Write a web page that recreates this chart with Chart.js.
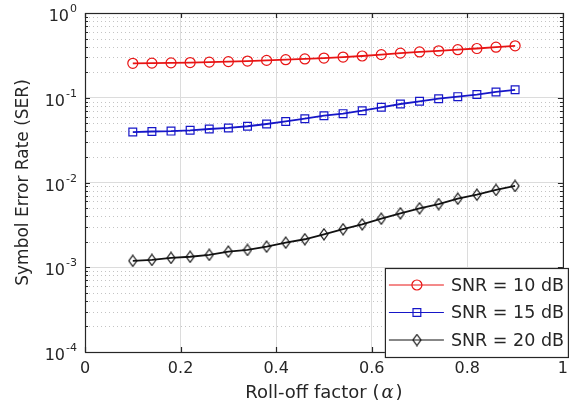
<!DOCTYPE html>
<html>
<head>
<meta charset="utf-8">
<script src="https://cdn.jsdelivr.net/npm/chart.js@4/dist/chart.umd.min.js"></script>
<style>
html,body{margin:0;padding:0;background:#fff}
#wrap{width:575px;height:406px}
</style>
</head>
<body>
<div id="wrap"><canvas id="serChart" width="575" height="406"></canvas></div>
<script>
// roll-off factor on the x axis
const alphaValues = [0.10,0.14,0.18,0.22,0.26,0.30,0.34,0.38,0.42,0.46,0.50,0.54,0.58,0.62,0.66,0.70,0.74,0.78,0.82,0.86,0.90];
// SER for each SNR
const serSnr10 = [0.255,0.256,0.258,0.260,0.263,0.267,0.271,0.276,0.281,0.287,0.294,0.302,0.311,0.323,0.336,0.347,0.358,0.369,0.381,0.395,0.410];
const serSnr15 = [0.0394,0.0400,0.0404,0.0413,0.0428,0.0440,0.0461,0.0490,0.0525,0.0566,0.0614,0.0649,0.0703,0.0771,0.0844,0.0908,0.0975,0.103,0.109,0.117,0.124];
const serSnr20 = [0.00119,0.00122,0.00129,0.00133,0.00140,0.00153,0.00160,0.00175,0.00195,0.00214,0.00245,0.00281,0.00321,0.00374,0.00433,0.00496,0.00557,0.00644,0.00718,0.00817,0.00910];
const seriesLabels = ['SNR = 10 dB','SNR = 15 dB','SNR = 20 dB'];
const xTicks = [0,0.2,0.4,0.6,0.8,1];
const yDecades = [1e-4,1e-3,1e-2,1e-1,1];

const FONT = '"DejaVu Sans", sans-serif';
const AXIS_COLOR = '#262626';

function toPoints(ys){
  return alphaValues.map((a,i)=>({x:a,y:ys[i]}));
}

// matlab diamonds are a bit taller than wide
function diamondImg(color, w, h){
  let c = document.createElement('canvas');
  c.width = w+2; c.height = h+2;
  let g = c.getContext('2d');
  g.strokeStyle = color; g.lineWidth = 1.2;
  let cx = c.width/2, cy = c.height/2;
  g.beginPath();
  g.moveTo(cx,cy-h/2); g.lineTo(cx+w/2,cy); g.lineTo(cx,cy+h/2); g.lineTo(cx-w/2,cy); g.closePath();
  g.stroke();
  return c;
}

let mkDataset = (label, ys, color, style, r) => ({
  label: label,
  data: toPoints(ys),
  borderColor: color,
  backgroundColor: 'rgba(0,0,0,0)',
  borderWidth: 1.8,
  pointStyle: style,
  pointRadius: r,
  pointBorderWidth: 1.2,
  pointBorderColor: color,
  pointBackgroundColor: 'rgba(0,0,0,0)',
  tension: 0
});

function drawMarker(ctx, style, x, y, r){
  if(style instanceof HTMLCanvasElement){
    ctx.drawImage(style, x-style.width/2, y-style.height/2);
    return;
  }
  ctx.beginPath();
  if(style==='circle'){
    ctx.arc(x,y,r,0,Math.PI*2);
  } else {
    let s = r*Math.SQRT1_2;
    ctx.rect(x-s,y-s,2*s,2*s);
  }
  ctx.stroke();
}

const matlabAxes = {
  id: 'matlabAxes',
  beforeDatasetsDraw(chart){
    const {ctx, chartArea:a, scales:{y}} = chart;
    ctx.save();
    ctx.strokeStyle = '#c4c4c4';
    ctx.lineWidth = 1;
    ctx.setLineDash([1,3]);
    for(let d=0; d<yDecades.length-1; d++){
      for(let m=2; m<=9; m++){
        let py = Math.round(y.getPixelForValue(m*yDecades[d]))+0.5;
        ctx.beginPath(); ctx.moveTo(a.left,py); ctx.lineTo(a.right,py); ctx.stroke();
      }
    }
    ctx.restore();
  },
  afterDraw(chart){
    const {ctx, chartArea:a, scales:{x,y}} = chart;
    ctx.save();
    // box
    ctx.strokeStyle = AXIS_COLOR;
    ctx.lineWidth = 1.2;
    ctx.strokeRect(a.left+0.5, a.top+0.5, a.right-a.left, a.bottom-a.top);
    // inward ticks
    ctx.beginPath();
    xTicks.forEach(v=>{
      let px = Math.round(x.getPixelForValue(v))+0.5;
      ctx.moveTo(px,a.bottom); ctx.lineTo(px,a.bottom-5);
      ctx.moveTo(px,a.top); ctx.lineTo(px,a.top+5);
    });
    yDecades.forEach((d,i)=>{
      let py = Math.round(y.getPixelForValue(d))+0.5;
      ctx.moveTo(a.left,py); ctx.lineTo(a.left+5,py);
      ctx.moveTo(a.right,py); ctx.lineTo(a.right-5,py);
      if(i<yDecades.length-1){
        for(let m=2;m<=9;m++){
          let pm = Math.round(y.getPixelForValue(m*d))+0.5;
          ctx.moveTo(a.left,pm); ctx.lineTo(a.left+3,pm);
          ctx.moveTo(a.right,pm); ctx.lineTo(a.right-3,pm);
        }
      }
    });
    ctx.stroke();

    // y tick labels 10^n
    ctx.fillStyle = AXIS_COLOR;
    ctx.textBaseline = 'alphabetic';
    ctx.textAlign = 'left';
    yDecades.forEach(d=>{
      let py = y.getPixelForValue(d);
      let e = String(Math.round(Math.log10(d)));
      ctx.font = '11px '+FONT;
      let ew = ctx.measureText(e).width;
      ctx.font = '16px '+FONT;
      let bw = ctx.measureText('10').width;
      let right = a.left - 8;
      ctx.fillText('10', right-ew-bw-1, py+8);
      ctx.font = '11px '+FONT;
      ctx.fillText(e, right-ew, py-1);
    });

    // x title with italic alpha
    let t1 = 'Roll-off factor (', t2 = '\u03b1', t3 = ')';
    let fs = '18px '+FONT, fa = 'italic 18px "DejaVu Serif", serif';
    ctx.font = fs;
    let w1 = ctx.measureText(t1).width, w3 = ctx.measureText(t3).width;
    ctx.font = fa;
    let w2 = ctx.measureText(t2).width;
    let gap = 2;
    let cx = (a.left+a.right)/2, tx = cx-(w1+w2+w3+2*gap)/2, ty = 398;
    ctx.font = fs;
    ctx.fillText(t1, tx, ty);
    ctx.font = fa;
    ctx.fillText(t2, tx+w1+gap, ty);
    ctx.font = fs;
    ctx.fillText(t3, tx+w1+w2+2*gap, ty);

    // legend
    let bx = a.right-178, by = a.bottom-84, bwid = 183, bh = 89;
    ctx.fillStyle = '#fff';
    ctx.fillRect(bx,by,bwid,bh);
    ctx.lineWidth = 1.2;
    ctx.strokeStyle = AXIS_COLOR;
    ctx.strokeRect(bx+0.5,by+0.5,bwid,bh);
    chart.data.datasets.forEach((ds,i)=>{
      let ry = by+17+i*27.5;
      ctx.strokeStyle = ds.borderColor;
      ctx.lineWidth = 1;
      ctx.beginPath(); ctx.moveTo(bx+4,ry); ctx.lineTo(bx+59,ry); ctx.stroke();
      ctx.lineWidth = 1.2;
      drawMarker(ctx, ds.pointStyle, bx+32, ry, ds.pointRadius);
      ctx.fillStyle = AXIS_COLOR;
      ctx.font = '17.5px '+FONT;
      ctx.textBaseline = 'middle';
      ctx.fillText(ds.label, bx+66, ry+1);
    });
    ctx.restore();
  }
};

new Chart(document.getElementById('serChart'), {
  type: 'line',
  data: {
    datasets: [
      mkDataset(seriesLabels[0], serSnr10, '#e81414', 'circle', 5),
      mkDataset(seriesLabels[1], serSnr15, '#1616c8', 'rect', 5.5),
      mkDataset(seriesLabels[2], serSnr20, '#111111', diamondImg('#111111', 8, 11), 5.5)
    ]
  },
  options: {
    responsive: false,
    animation: false,
    devicePixelRatio: 1,
    layout: {padding: {left: 0, top: 13, right: 8, bottom: 0}},
    plugins: {legend: {display: false}, tooltip: {enabled: false}},
    scales: {
      x: {
        type: 'linear', min: 0, max: 1,
        afterBuildTicks: s => { s.ticks = xTicks.map(v=>({value:v})); },
        afterFit: s => { s.height = 54; },
        ticks: {
          autoSkip: false, maxRotation: 0, padding: 7,
          color: AXIS_COLOR, font: {family: FONT, size: 16},
          callback: v => String(+Number(v).toFixed(1))
        },
        grid: {
          drawTicks: false,
          color: c => (c.tick && (c.tick.value===0 || c.tick.value===1)) ? 'rgba(0,0,0,0)' : '#dcdcdc'
        },
        border: {display: false}
      },
      y: {
        type: 'logarithmic', min: 1e-4, max: 1,
        afterBuildTicks: s => { s.ticks = yDecades.map(v=>({value:v})); },
        afterFit: s => { s.width = 85; },
        ticks: {display: false},
        grid: {
          drawTicks: false,
          color: c => (c.tick && (c.tick.value===1e-4 || c.tick.value===1)) ? 'rgba(0,0,0,0)' : '#dcdcdc'
        },
        border: {display: false},
        title: {
          display: true, text: 'Symbol Error Rate (SER)',
          color: AXIS_COLOR, font: {family: FONT, size: 17}, padding: {top: 13, bottom: 0}
        }
      }
    }
  },
  plugins: [matlabAxes]
});
</script>
</body>
</html>
